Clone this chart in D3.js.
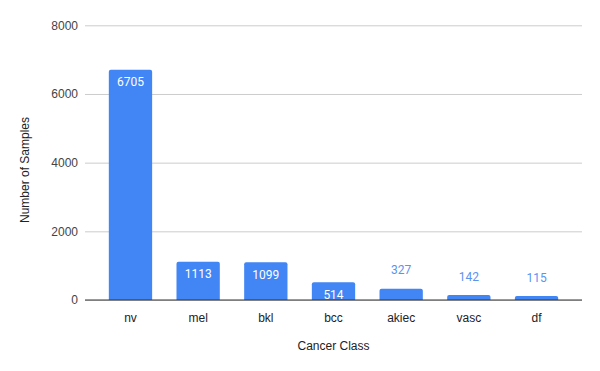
<!DOCTYPE html>
<html>
<head>
<meta charset="utf-8">
<script src="https://cdn.jsdelivr.net/npm/d3@7"></script>
<style>
  body { margin: 0; background: #fff; }
</style>
</head>
<body>
<div class="bar-chart"></div>
<script>
var classes = ['nv', 'mel', 'bkl', 'bcc', 'akiec', 'vasc', 'df'];
var samples = [6705, 1113, 1099, 514, 327, 142, 115];
var yTicks = [0, 2000, 4000, 6000, 8000];

var width = 600, height = 371;
var plot = { left: 85, right: 582, top: 25.3, bottom: 300 };
var labelFont = '"Liberation Sans", Arial, sans-serif';

var svg = d3.select('.bar-chart').append('svg')
    .attr('width', width)
    .attr('height', height);

var xScale = d3.scaleBand()
    .domain(classes)
    .range([plot.left, plot.right])
    .paddingInner(0.36)
    .paddingOuter(0.352);

var yScale = d3.scaleLinear()
    .domain([0, 8000])
    .range([plot.bottom, plot.top]);

// gridlines + y labels
var yAxis = svg.append('g')
    .attr('class', 'y axis')
    .attr('transform', 'translate(' + plot.left + ',0)')
    .call(d3.axisLeft(yScale)
      .tickValues(yTicks)
      .tickFormat(d3.format('d'))
      .tickSize(-(plot.right - plot.left))
      .tickPadding(7));
yAxis.attr('font-family', labelFont).attr('font-size', 12);
yAxis.select('.domain').remove();
yAxis.selectAll('.tick line').attr('stroke', '#cccccc');
yAxis.selectAll('.tick text').attr('fill', '#444');

svg.selectAll('.bar')
    .data(classes)
  .enter().append('path')
    .attr('class', 'bar')
    .attr('fill', '#4285f4')
    .attr('d', function(d, i) {
      var x0 = xScale(d), w = xScale.bandwidth();
      var y0 = yScale(samples[i]), y1 = yScale(0);
      var r = Math.min(2, (y1 - y0) / 2);
      return 'M' + x0 + ',' + y1 + 'V' + (y0 + r) + 'Q' + x0 + ',' + y0 + ' ' + (x0 + r) + ',' + y0 +
        'H' + (x0 + w - r) + 'Q' + (x0 + w) + ',' + y0 + ' ' + (x0 + w) + ',' + (y0 + r) + 'V' + y1 + 'Z';
    });

// baseline
svg.append('line')
    .attr('x1', plot.left).attr('x2', plot.right)
    .attr('y1', yScale(0)).attr('y2', yScale(0))
    .attr('stroke', '#333').attr('stroke-width', 1);

// x axis labels
var xAxis = svg.append('g')
    .attr('class', 'x axis')
    .attr('transform', 'translate(0,' + plot.bottom + ')')
    .call(d3.axisBottom(xScale).tickSize(0).tickPadding(13));
xAxis.attr('font-family', labelFont).attr('font-size', 12);
xAxis.select('.domain').remove();
xAxis.selectAll('.tick text').attr('fill', '#222');

// value labels
svg.selectAll('.value')
    .data(classes)
  .enter().append('text')
    .attr('class', 'value')
    .attr('x', function(d) { return xScale(d) + xScale.bandwidth() / 2; })
    .attr('y', function(d, i) {
      var h = yScale(0) - yScale(samples[i]);
      return h > 15 ? yScale(samples[i]) + 12.5 : yScale(samples[i]) - 18.5;
    })
    .attr('dy', '0.35em')
    .attr('text-anchor', 'middle')
    .attr('font-family', 'Roboto, sans-serif')
    .attr('font-size', 12)
    .attr('fill', function(d, i) {
      return (yScale(0) - yScale(samples[i])) > 15 ? '#ffffff' : '#5b93f2';
    })
    .text(function(d, i) { return samples[i]; });

// axis titles
svg.append('text')
    .attr('x', (plot.left + plot.right) / 2)
    .attr('y', 346)
    .attr('dy', '0.35em')
    .attr('text-anchor', 'middle')
    .attr('font-family', labelFont)
    .attr('font-size', 12)
    .attr('fill', '#222')
    .text('Cancer Class');

svg.append('text')
    .attr('transform', 'translate(25,170) rotate(-90)')
    .attr('dy', '0.35em')
    .attr('text-anchor', 'middle')
    .attr('font-family', labelFont)
    .attr('font-size', 12)
    .attr('fill', '#222')
    .text('Number of Samples');
</script>
</body>
</html>
